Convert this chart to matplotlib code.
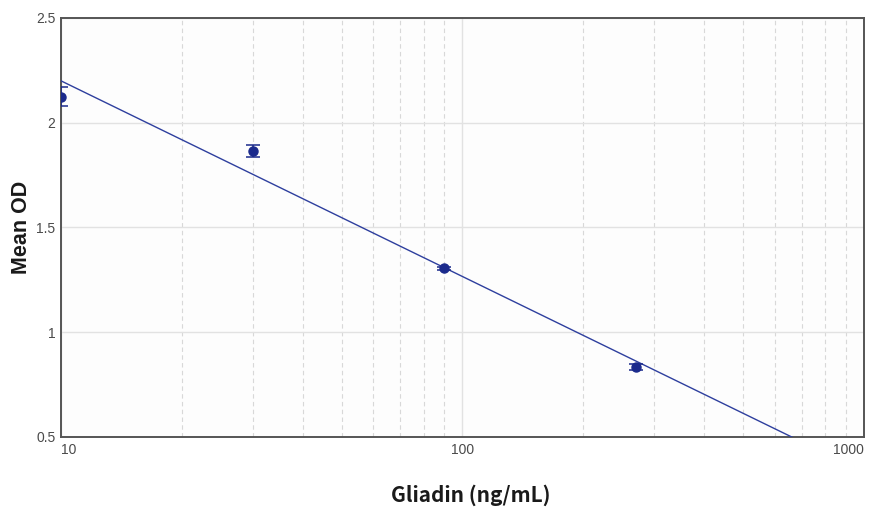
import numpy as np
import matplotlib.pyplot as plt
from matplotlib.ticker import FixedLocator, NullFormatter

# standards (ng/mL), mean OD and sd
conc = [10, 30, 90, 270]
mean_od = [2.125, 1.865, 1.305, 0.835]
sd_od = [0.045, 0.028, 0.008, 0.015]

# fitted log-linear curve: OD = a + b * log10(conc)
fit_a = 3.134
fit_b = -0.934

xticks = [10, 100, 1000]
yticks = [0.5, 1, 1.5, 2, 2.5]
ytick_labels = ["0.5", "1", "1.5", "2", "2.5"]

fig = plt.figure(figsize=(8.7, 5.08), dpi=100)
ax = fig.add_axes([0.0701, 0.1398, 0.9229, 0.8248])
ax.set_facecolor("#fdfdfd")

xs = np.logspace(1, 3, 200)
ax.plot(xs, fit_a + fit_b * np.log10(xs), color="#2e3f9e", lw=1.0, zorder=3)
ax.errorbar(conc, mean_od, yerr=sd_od, fmt="o", color="#1b2a8c", ms=6.5,
            capsize=5, elinewidth=1.1, capthick=1.1, zorder=4)

ax.set_xscale("log")
ax.set_xlim(10, 1000)
ax.set_ylim(0.5, 2.5)

# grid: solid at decades and y ticks, dashed at minor decades
ax.xaxis.set_major_locator(FixedLocator(xticks))
minors = [m * d for d in (10, 100) for m in range(2, 10)]
ax.xaxis.set_minor_locator(FixedLocator(minors))
ax.xaxis.set_minor_formatter(NullFormatter())
ax.set_yticks(yticks)
ax.set_yticklabels(ytick_labels)
ax.grid(True, which="major", axis="both", color="#e2e2e2", lw=1.0, ls="-")
ax.grid(True, which="minor", axis="x", color="#d8d8d8", lw=0.8, ls=(0, (4, 3)))
ax.set_axisbelow(True)

ax.tick_params(axis="both", which="both", length=0, labelsize=10,
               labelcolor="#4a4a4a", pad=4)
ax.set_xticklabels([str(t) for t in xticks])
for lbl, ha in zip(ax.get_xticklabels(), ["left", "center", "right"]):
    lbl.set_ha(ha)
for lbl in ax.get_xticklabels() + ax.get_yticklabels():
    lbl.set_family(["Liberation Sans", "DejaVu Sans"])

for s in ax.spines.values():
    s.set_color("#555555")
    s.set_linewidth(1.4)

ax.set_xlabel("Gliadin (ng/mL)", fontsize=15, fontweight="bold",
              family=["Noto Sans CJK SC", "DejaVu Sans"], color="#1a1a1a",
              va="center")
ax.xaxis.set_label_coords(0.51, -0.138)
ax.set_ylabel("Mean OD", fontsize=15.5, fontweight="bold",
              family=["Liberation Sans", "DejaVu Sans"], color="#1a1a1a",
              va="center")
ax.yaxis.set_label_coords(-0.049, 0.5)

fig.savefig("out.png", dpi=100, facecolor="white")
